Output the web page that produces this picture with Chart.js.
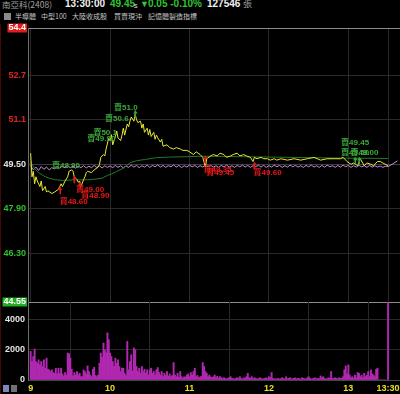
<!DOCTYPE html>
<html>
<head>
<meta charset="utf-8">
<script src="https://cdn.jsdelivr.net/npm/chart.js@4/dist/chart.umd.min.js"></script>
<style>
body { margin: 0; background: #000; width: 400px; height: 394px; overflow: hidden; position: relative; font-family: "Liberation Sans", "Noto Sans CJK TC", sans-serif; }
.t { position: absolute; white-space: nowrap; line-height: 10px; }
.tab { position: absolute; top: 13px; font: 7px "Noto Sans CJK TC", sans-serif; line-height: 7px; color: #c4c4c4; white-space: nowrap; }
canvas { position: absolute; left: 0; }
#priceChart { top: 0; }
#volChart { top: 290px; }
</style>
</head>
<body>
<div class="t" style="left:2px;top:-1px;font-size:8.5px;color:#a0a0a0;font-family:'Noto Sans CJK TC'">南亞科(2408)</div>
<div class="t" style="left:65px;top:-1px;font-size:10px;font-weight:bold;color:#f0f0f0">13:30:00</div>
<div class="t" style="left:110px;top:-1px;font-size:10px;font-weight:bold;color:#33c433">49.45</div>
<div class="t" style="left:134px;top:1px;font-size:7px;color:#e0e0e0">s</div>
<div class="t" style="left:140px;top:-1px;font-size:9px;color:#33c433">▼</div>
<div class="t" style="left:148px;top:-1px;font-size:10px;font-weight:bold;color:#33c433">0.05 -0.10%</div>
<div class="t" style="left:207px;top:-1px;font-size:10px;font-weight:bold;color:#f0f0f0">127546</div>
<div class="t" style="left:243px;top:-1px;font-size:9px;color:#a0a0a0;font-family:'Noto Sans CJK TC'">張</div>
<div style="position:absolute;left:4px;top:13px;width:7px;height:7px;background:#8a8a8a"></div>
<div class="tab" style="left:15px">半導體</div>
<div class="tab" style="left:41px">中型100</div>
<div class="tab" style="left:72px">大陸收成股</div>
<div class="tab" style="left:114px">買賣現沖</div>
<div class="tab" style="left:148px">記憶體製造指標</div>
<div style="position:absolute;left:0;top:24px;width:1px;height:370px;background:#4a0808"></div>
<div style="position:absolute;left:3px;top:385px;width:6px;height:7px;background:#7a8ab8"></div>
<div style="position:absolute;left:11px;top:385px;width:6px;height:7px;background:#707070"></div>

<canvas id="priceChart" width="400" height="312"></canvas>
<canvas id="volChart" width="400" height="104"></canvas>

<script>
// minutes after 9:00
var timeTicks = [0, 60, 120, 180, 240, 270];
var timeLabels = ['9', '10', '11', '12', '13', '13:30'];

var priceTickValues = [44.55, 46.3, 47.9, 49.5, 51.1, 52.7, 54.4];
var priceTickLabels = ['44.55', '46.30', '47.90', '49.50', '51.1', '52.7', '54.4'];
var priceTickColors = ['#ffffff', '#2ec02e', '#2ec02e', '#e4e4e4', '#e02424', '#e02424', '#ffffff'];
var priceTickBoxes = ['#1fae1f', '', '', '', '', '', '#e31b1b'];

var volTickValues = [0, 2000, 4000];
var volTickLabels = ['0', '2000', '4000'];

// 成交價
var priceTimes = [0, 1, 2, 3, 4, 5, 7, 8, 9, 11, 12, 13, 16, 18, 21, 22, 23, 24, 26, 28,
    29, 31, 32, 33, 35, 36, 37, 38, 40, 41, 42, 43, 46, 48, 51, 52, 53, 55, 56, 57,
    59, 60, 61, 62, 64, 65, 66, 68, 69, 70, 71, 73, 74, 75, 76, 78, 79, 80, 81, 83,
    84, 85, 86, 88, 89, 90, 91, 93, 94, 95, 96, 98, 99, 100, 103, 105, 108, 110, 113, 115,
    118, 120, 123, 125, 128, 130, 132, 133, 136, 138, 141, 143, 146, 148, 151, 153, 156, 158, 161, 163,
    166, 168, 169, 171, 174, 176, 179, 181, 184, 186, 189, 194, 199, 204, 209, 214, 219, 224, 229, 234,
    236, 239, 242, 244, 247, 249, 252, 254, 257, 259, 262, 264, 266, 270];
var priceValues = [49.90, 49.05, 49.25, 48.80, 49.05, 48.90, 48.70, 48.90, 48.55, 48.70, 48.50, 48.55, 48.45, 48.50, 48.60, 48.70, 48.80, 48.70, 48.90, 49.05,
    49.25, 49.30, 49.25, 49.05, 48.95, 48.85, 48.90, 48.70, 48.95, 49.05, 49.20, 49.25, 49.20, 49.30, 49.40, 49.50, 49.75, 49.85, 49.80, 50.05,
    50.45, 50.35, 50.55, 50.20, 50.50, 50.70, 50.45, 50.35, 50.55, 50.80, 50.55, 50.95, 50.85, 51.05, 51.20, 51.05, 51.30, 51.10, 51.00, 51.05,
    50.80, 50.95, 50.65, 50.80, 50.55, 50.75, 50.50, 50.65, 50.40, 50.55, 50.45, 50.30, 50.40, 50.15, 50.20, 50.10, 50.05, 50.10, 50.05, 50.00,
    50.00, 49.95, 49.85, 49.95, 49.85, 49.75, 49.40, 49.70, 49.80, 49.85, 49.80, 49.90, 49.85, 49.75, 49.80, 49.85, 49.90, 49.80, 49.85, 49.80,
    49.75, 49.60, 49.75, 49.70, 49.75, 49.70, 49.70, 49.65, 49.70, 49.65, 49.70, 49.65, 49.70, 49.65, 49.70, 49.75, 49.65, 49.70, 49.70, 49.70,
    49.75, 49.60, 49.50, 49.55, 49.45, 49.70, 49.45, 49.55, 49.50, 49.45, 49.60, 49.60, 49.55, 49.45];

// 均價
var avgTimes = [0, 1, 3, 6, 10, 14, 18, 24, 32, 40, 48, 54, 58, 61, 65, 70, 75, 80, 86, 95, 105, 115, 130, 150, 180, 210, 240, 270];
var avgValues = [49.60, 49.50, 49.35, 49.20, 49.08, 49.00, 48.95, 48.92, 48.94, 48.94, 48.96, 49.00, 49.10, 49.15, 49.24, 49.36, 49.55, 49.63, 49.67, 49.74, 49.76, 49.77, 49.79, 49.78, 49.76, 49.74, 49.72, 49.71];

// 指數 (every 2 minutes, then two closing points)
var indexValues = [49.45, 49.30, 49.40, 49.28, 49.42, 49.32, 49.40, 49.30, 49.38, 49.34,
    49.42, 49.36, 49.44, 49.37, 49.45, 49.38, 49.43, 49.36, 49.44, 49.38, 49.45, 49.37, 49.43, 49.38, 49.46, 49.39, 49.44, 49.37, 49.45, 49.39,
    49.44, 49.38, 49.46, 49.39, 49.45, 49.37, 49.44, 49.39, 49.47, 49.40, 49.46, 49.38, 49.45, 49.40, 49.47, 49.39, 49.46, 49.41, 49.48, 49.40,
    49.46, 49.39, 49.45, 49.41, 49.48, 49.40, 49.46, 49.38, 49.45, 49.40, 49.47, 49.41, 49.46, 49.39, 49.45, 49.40, 49.47, 49.41, 49.46, 49.40,
    49.45, 49.39, 49.46, 49.41, 49.47, 49.40, 49.45, 49.39, 49.46, 49.41, 49.47, 49.40, 49.46, 49.39, 49.45, 49.41, 49.47, 49.40, 49.46, 49.39,
    49.45, 49.40, 49.47, 49.41, 49.46, 49.39, 49.45, 49.40, 49.47, 49.41, 49.46, 49.40, 49.45, 49.39, 49.46, 49.41, 49.47, 49.40, 49.45, 49.39,
    49.46, 49.40, 49.47, 49.41, 49.45, 49.39, 49.46, 49.40, 49.47, 49.41, 49.46, 49.39, 49.45, 49.40, 49.46, 49.41, 49.45, 49.39, 49.46, 49.40,
    49.45, 49.40, 49.44, 49.39, 49.43, 49.42];
var indexEndTimes = [273, 277];
var indexEndValues = [49.50, 49.62];

// 成交量 per minute, 9:00 .. 13:30
var volumes = [
    1890, 1220, 1550, 2040, 1220, 1110, 1330, 1000, 1220, 890,
    1330, 780, 1440, 710, 670, 560, 670, 490, 440, 780,
    400, 780, 440, 780, 400, 270, 490, 330, 1780, 1730,
    1440, 710, 270, 490, 330, 560, 330, 440, 220, 220,
    670, 560, 400, 930, 560, 330, 220, 710, 840, 300,
    220, 330, 1110, 1780, 1500, 2440, 2000, 1800, 3110, 2660,
    1780, 1550, 1220, 900, 1440, 1110, 1330, 890, 560, 780,
    780, 440, 300, 2550, 670, 1220, 1670, 600, 2110, 2000,
    890, 560, 780, 440, 890, 560, 710, 440, 670, 330,
    670, 780, 440, 560, 330, 670, 820, 490, 330, 560,
    220, 440, 300, 560, 250, 400, 220, 300, 1150, 330,
    220, 440, 180, 560, 220, 110, 220, 180, 330, 400,
    220, 490, 330, 560, 780, 220, 300, 150, 200, 250,
    1150, 890, 560, 440, 220, 330, 200, 150, 200, 330,
    150, 250, 110, 220, 150, 90, 150, 110, 60, 110,
    150, 220, 110, 90, 60, 110, 150, 90, 220, 110,
    60, 150, 110, 220, 440, 150, 110, 220, 90, 150,
    110, 60, 90, 150, 110, 60, 90, 110, 150, 90,
    220, 150, 490, 110, 60, 90, 50, 110, 60, 90,
    150, 110, 60, 220, 90, 110, 150, 60, 90, 110,
    150, 60, 110, 90, 60, 150, 110, 90, 60, 150,
    220, 110, 60, 90, 110, 150, 60, 110, 90, 270,
    150, 220, 110, 60, 90, 150, 110, 560, 110, 90,
    150, 110, 60, 150, 110, 90, 220, 670, 930, 400,
    1000, 330, 150, 220, 110, 330, 150, 490, 440, 220,
    330, 150, 440, 220, 330, 560, 220, 670, 400, 330,
    220, 710, 780, 0, 0, 0, 0, 0, 0, 0,
    5100];

// 大單標示
var noteTimes = [63, 56.2, 47.4, 42.8, 16.1, 234.5, 234.5, 241.6, 21.9, 34.3, 38.3, 130.6, 132.6, 168.4];
var notePrices = [51.52, 51.15, 50.64, 50.43, 49.45, 50.27, 49.93, 49.93, 48.16, 48.59, 48.37, 49.29, 49.18, 49.18];
var noteTexts = ['賣51.0', '賣50.6', '賣50.1', '賣49.90', '賣48.90', '賣49.45', '賣49.50', '賣49.00',
    '買48.60', '買49.00', '買48.90', '買49.35', '買49.45', '買49.60'];
var noteColors = ['#3aa83a', '#3aa83a', '#3aa83a', '#3aa83a', '#3aa83a', '#3aa83a', '#3aa83a', '#3aa83a',
    '#e81818', '#e81818', '#e81818', '#e81818', '#e81818', '#e81818'];

var markTimes = [22, 33, 37, 132, 169, 79, 245, 248];
var markPrices = [48.68, 49.07, 48.85, 49.80, 49.57, 51.43, 49.75, 49.75];
var markColors = ['#e81818', '#e81818', '#e81818', '#e81818', '#e81818', '#3aa83a', '#3aa83a', '#3aa83a'];

var GRID = '#292929';

function toPoints(times, values) {
    var pts = [];
    for (var i = 0; i < values.length; i++) {
        pts.push({x: times[i], y: values[i]});
    }
    return pts;
}

var indexPoints = [];
for (var i = 0; i < indexValues.length; i++) {
    indexPoints.push({x: i * 2, y: indexValues[i]});
}
indexPoints = indexPoints.concat(toPoints(indexEndTimes, indexEndValues));

var volPoints = [];
for (var m = 0; m < volumes.length; m++) {
    volPoints.push({x: m, y: volumes[m]});
}

var notesPlugin = {
    id: 'bigOrderNotes',
    afterDatasetsDraw: function(chart) {
        var ctx = chart.ctx;
        var xs = chart.scales.x;
        var ys = chart.scales.y;
        ctx.save();
        // small arrows at the trade points
        for (var i = 0; i < markTimes.length; i++) {
            var px = xs.getPixelForValue(markTimes[i]);
            var py = ys.getPixelForValue(markPrices[i]);
            ctx.fillStyle = markColors[i];
            ctx.fillRect(Math.round(px) - 0.5, py, 1.5, 7);
            ctx.beginPath();
            ctx.moveTo(px - 2, py + 3);
            ctx.lineTo(px + 0.3, py);
            ctx.lineTo(px + 2.5, py + 3);
            ctx.closePath();
            ctx.fill();
        }
        ctx.font = 'bold 8px "Liberation Sans", "Noto Sans CJK TC", sans-serif';
        ctx.textBaseline = 'middle';
        ctx.textAlign = 'left';
        for (var j = 0; j < noteTexts.length; j++) {
            ctx.fillStyle = noteColors[j];
            ctx.fillText(noteTexts[j], xs.getPixelForValue(noteTimes[j]), ys.getPixelForValue(notePrices[j]));
        }
        ctx.restore();
    }
};

var tickFont = {family: '"Liberation Sans", sans-serif', size: 9, weight: 'bold', lineHeight: 1};

var priceChart = new Chart(document.getElementById('priceChart'), {
    type: 'line',
    data: {
        datasets: [
            {label: '成交價', data: toPoints(priceTimes, priceValues), borderColor: '#e8e832', borderWidth: 1, pointRadius: 0, tension: 0},
            {label: '均價', data: toPoints(avgTimes, avgValues), borderColor: '#22792a', borderWidth: 1, pointRadius: 0, tension: 0},
            {label: '指數', data: indexPoints, borderColor: '#c58ad6', borderWidth: 1, pointRadius: 0, tension: 0}
        ]
    },
    options: {
        responsive: false,
        animation: false,
        layout: {padding: {top: 28, right: 0, bottom: 10, left: 0}},
        plugins: {legend: {display: false}, tooltip: {enabled: false}},
        scales: {
            x: {
                type: 'linear', min: -2, max: 279,
                afterBuildTicks: function(scale) {
                    scale.ticks = timeTicks.map(function(v) { return {value: v}; });
                },
                afterFit: function(scale) { scale.height = 0; scale.paddingLeft = 0; scale.paddingRight = 0; },
                ticks: {display: false},
                grid: {color: GRID, drawTicks: false},
                border: {display: false}
            },
            y: {
                type: 'linear', min: 44.55, max: 54.4,
                afterBuildTicks: function(scale) {
                    scale.ticks = priceTickValues.map(function(v) { return {value: v}; });
                },
                afterFit: function(scale) { scale.width = 28; },
                ticks: {
                    font: tickFont,
                    padding: 2,
                    callback: function(value, index) { return priceTickLabels[index]; },
                    color: function(c) { return priceTickColors[c.index]; },
                    showLabelBackdrop: function(c) { return priceTickBoxes[c.index] !== ''; },
                    backdropColor: function(c) { return priceTickBoxes[c.index] || 'rgba(0,0,0,0)'; },
                    backdropPadding: {top: 0, bottom: 0, left: 1, right: 1}
                },
                grid: {
                    drawTicks: false,
                    color: function(c) {
                        var v = c.tick ? c.tick.value : 0;
                        if (v === 54.4 || v === 44.55) return '#8c8c8c';
                        if (v === 49.5) return '#3c3c3c';
                        return GRID;
                    }
                },
                border: {color: '#6e6e6e'}
            }
        }
    },
    plugins: [notesPlugin]
});

var volChart = new Chart(document.getElementById('volChart'), {
    type: 'bar',
    data: {
        datasets: [
            {label: '成交量', data: volPoints, backgroundColor: '#b028b0', barThickness: 1.3}
        ]
    },
    options: {
        responsive: false,
        animation: false,
        layout: {padding: {top: 12, right: 0, bottom: 0, left: 0}},
        plugins: {legend: {display: false}, tooltip: {enabled: false}},
        scales: {
            x: {
                type: 'linear', min: -2, max: 279, offset: false,
                afterBuildTicks: function(scale) {
                    scale.ticks = timeTicks.map(function(v) { return {value: v}; });
                },
                afterFit: function(scale) { scale.height = 14; scale.paddingLeft = 0; scale.paddingRight = 0; },
                ticks: {
                    font: tickFont, color: '#e8e020', padding: 4, maxRotation: 0, autoSkip: false,
                    callback: function(value, index) { return timeLabels[index]; }
                },
                grid: {color: GRID, drawTicks: false},
                border: {color: '#444444'}
            },
            y: {
                type: 'linear', min: 0, max: 5150,
                afterBuildTicks: function(scale) {
                    scale.ticks = volTickValues.map(function(v) { return {value: v}; });
                },
                afterFit: function(scale) { scale.width = 28; },
                ticks: {
                    font: tickFont, color: '#e4e4e4', padding: 3,
                    callback: function(value, index) { return volTickLabels[index]; }
                },
                grid: {
                    drawTicks: false,
                    color: function(c) { return (c.tick && c.tick.value === 0) ? 'rgba(0,0,0,0)' : GRID; }
                },
                border: {color: '#6e6e6e'}
            }
        }
    }
});
</script>
</body>
</html>
